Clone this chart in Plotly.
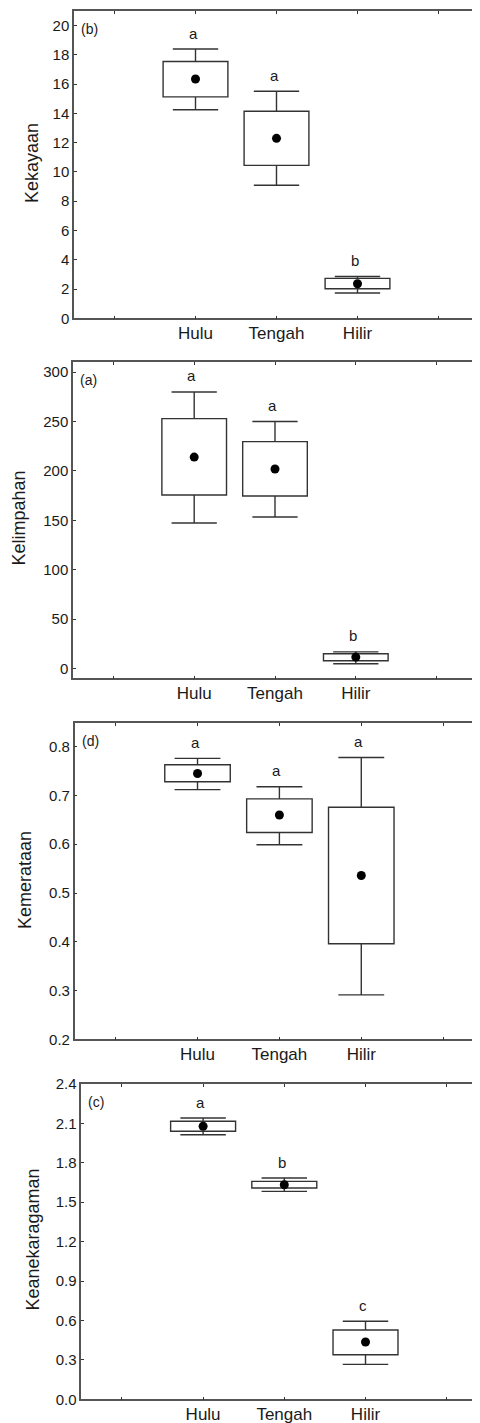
import plotly.graph_objects as go

# ---------------- data ----------------
categories = ["Hulu", "Tengah", "Hilir"]
cat_pos = [1, 2, 3]

# Panel (b) Kekayaan
kek_mean = [16.35, 12.3, 2.36]
kek_box_lo = [15.13, 10.45, 2.02]
kek_box_hi = [17.55, 14.15, 2.73]
kek_wh_lo = [14.25, 9.09, 1.73]
kek_wh_hi = [18.4, 15.52, 2.86]
kek_letters = ["a", "a", "b"]

# Panel (a) Kelimpahan
kel_mean = [214, 202, 11.5]
kel_box_lo = [175.6, 174.6, 7.7]
kel_box_hi = [253, 229.7, 14.8]
kel_wh_lo = [147.3, 153.3, 4.7]
kel_wh_hi = [280, 250, 16.8]
kel_letters = ["a", "a", "b"]

# Panel (d) Kemerataan
kem_mean = [0.745, 0.66, 0.536]
kem_box_lo = [0.728, 0.624, 0.396]
kem_box_hi = [0.763, 0.693, 0.676]
kem_wh_lo = [0.712, 0.599, 0.291]
kem_wh_hi = [0.776, 0.718, 0.778]
kem_letters = ["a", "a", "a"]

# Panel (c) Keanekaragaman
kea_mean = [2.078, 1.633, 0.436]
kea_box_lo = [2.04, 1.608, 0.339]
kea_box_hi = [2.116, 1.659, 0.527]
kea_wh_lo = [2.014, 1.583, 0.266]
kea_wh_hi = [2.141, 1.684, 0.594]
kea_letters = ["a", "b", "c"]

panels = [
    dict(tag="(b)", title="Kekayaan", mean=kek_mean, blo=kek_box_lo, bhi=kek_box_hi,
         wlo=kek_wh_lo, whi=kek_wh_hi, letters=kek_letters,
         yrange=[0, 21], ytick=[0, 2, 4, 6, 8, 10, 12, 14, 16, 18, 20], yfmt="",
         px=(74, 479), py=(11, 318.3), xrange=[-0.5, 4.5], tx=32, ty=163),
    dict(tag="(a)", title="Kelimpahan", mean=kel_mean, blo=kel_box_lo, bhi=kel_box_hi,
         wlo=kel_wh_lo, whi=kel_wh_hi, letters=kel_letters,
         yrange=[-10, 310], ytick=[0, 50, 100, 150, 200, 250, 300], yfmt="",
         px=(73, 477), py=(362.3, 678.3), xrange=[-0.5, 4.5], tx=18.5, ty=518),
    dict(tag="(d)", title="Kemerataan", mean=kem_mean, blo=kem_box_lo, bhi=kem_box_hi,
         wlo=kem_wh_lo, whi=kem_wh_hi, letters=kem_letters,
         yrange=[0.2, 0.848], ytick=[0.2, 0.3, 0.4, 0.5, 0.6, 0.7, 0.8], yfmt=".1f",
         px=(74.7, 480), py=(723.3, 1039.3), xrange=[-0.5, 4.45], tx=25, ty=880),
    dict(tag="(c)", title="Keanekaragaman", mean=kea_mean, blo=kea_box_lo, bhi=kea_box_hi,
         wlo=kea_wh_lo, whi=kea_wh_hi, letters=kea_letters,
         yrange=[0, 2.4], ytick=[0, 0.3, 0.6, 0.9, 1.2, 1.5, 1.8, 2.1, 2.4], yfmt=".1f",
         px=(81.3, 480), py=(1084, 1399.3), xrange=[-0.5, 4.41], tx=32.5, ty=1240),
]

# The page body has an 8px default margin, so the figure is drawn 8px in.
OFF = 8
W, H = 480 - OFF, 1423 - OFF
FONT = "Liberation Sans, Arial, sans-serif"
TXT = "#1a1a1a"
LINE = "#333333"
AX = "#555555"
BOX_W = 0.8      # box width (x units)
CAP_HALF = 0.28  # whisker cap half width (x units)


def fx(px):
    return min(max((px - OFF) / W, 0), 1)


def fy(py):
    return min(max(1 - (py - OFF) / H, 0), 1)


fig = go.Figure()
layout = dict(
    template="none",
    width=W, height=H, margin=dict(l=0, r=0, t=0, b=0, pad=0),
    paper_bgcolor="white", plot_bgcolor="white", showlegend=False,
    font=dict(family=FONT, color=TXT),
    annotations=[],
)

for i, p in enumerate(panels):
    n = "" if i == 0 else str(i + 1)
    xa, ya = "x" + n, "y" + n
    fig.add_trace(go.Bar(
        x=cat_pos, y=[h - l for h, l in zip(p["bhi"], p["blo"])], base=p["blo"],
        width=BOX_W, marker=dict(color="white", line=dict(color=LINE, width=1.4)),
        xaxis=xa, yaxis=ya, hoverinfo="skip",
    ))
    wx, wy = [], []
    for c, bl, bh, wl, wh in zip(cat_pos, p["blo"], p["bhi"], p["wlo"], p["whi"]):
        wx += [c, c, None, c - CAP_HALF, c + CAP_HALF, None,
               c, c, None, c - CAP_HALF, c + CAP_HALF, None]
        wy += [bh, wh, None, wh, wh, None,
               bl, wl, None, wl, wl, None]
    fig.add_trace(go.Scatter(
        x=wx, y=wy, mode="lines", line=dict(color=LINE, width=1.4),
        connectgaps=False, xaxis=xa, yaxis=ya, hoverinfo="skip",
    ))
    fig.add_trace(go.Scatter(
        x=cat_pos, y=p["mean"], mode="markers",
        marker=dict(color="black", size=9, line=dict(width=0)),
        xaxis=xa, yaxis=ya, hoverinfo="skip",
    ))
    x0, x1 = p["px"]
    y0, y1 = p["py"]
    common = dict(showline=True, linecolor=AX, linewidth=1.5, mirror="ticks",
                  ticks="inside", ticklen=3, tickwidth=1, tickcolor="#333",
                  showgrid=False, zeroline=False, fixedrange=True, automargin=False)
    layout["xaxis" + n] = dict(
        domain=[fx(x0), fx(x1)], anchor=ya, range=p["xrange"],
        tickmode="array", tickvals=[0, 1, 2, 3, 4],
        ticktext=[""] + categories + [""],
        tickfont=dict(size=17, color=TXT, family=FONT),
        ticklabelstandoff=-1, **common)
    layout["yaxis" + n] = dict(
        domain=[fy(y1), fy(y0)], anchor=xa, range=p["yrange"],
        tickmode="array", tickvals=p["ytick"], tickformat=p["yfmt"],
        tickfont=dict(size=15, color=TXT, family=FONT),
        ticklabelstandoff=0, **common)
    layout["annotations"].append(dict(
        text=p["title"], x=fx(p["tx"]), y=fy(p["ty"]), xref="paper", yref="paper",
        textangle=-90, showarrow=False, xanchor="center", yanchor="middle",
        font=dict(size=18, color=TXT, family=FONT)))
    layout["annotations"].append(dict(
        text=p["tag"], x=0, y=1, xref=xa + " domain", yref=ya + " domain",
        xanchor="left", yanchor="middle", xshift=5, yshift=-18, showarrow=False,
        font=dict(size=14, color=TXT, family=FONT)))
    for xp, top, let in zip(cat_pos, p["whi"], p["letters"]):
        layout["annotations"].append(dict(
            text=let, x=xp - 0.03, y=top, xref=xa, yref=ya, yshift=16,
            xanchor="center", yanchor="middle", showarrow=False,
            font=dict(size=15, color=TXT, family=FONT)))

fig.update_layout(**layout)
fig.write_html("out.html")
